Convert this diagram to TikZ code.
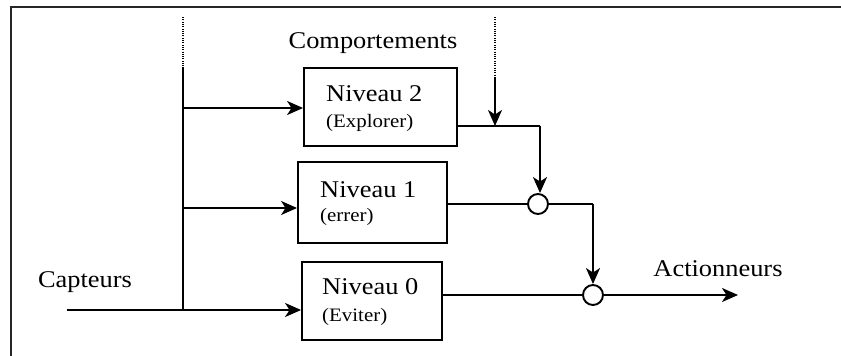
\documentclass[tikz,border=0pt]{standalone}
\usepackage{fontspec}
\setmainfont{Liberation Serif}
\usetikzlibrary{arrows.meta}
\begin{document}
\begin{tikzpicture}[x=1pt,y=-1pt,
  wire/.style={line width=1.9pt},
  dots/.style={line width=1.3pt,dash pattern=on 1pt off 1.3pt},
  arr/.style={wire,-{Stealth[length=16pt,width=14pt,inset=4.5pt]}},
  box/.style={draw,line width=1.9pt,rectangle,inner sep=0pt},
  big/.style={inner sep=0pt,font=\fontsize{24}{28}\selectfont,xscale=1.1,transform shape},
  small/.style={inner sep=0pt,font=\fontsize{19}{22}\selectfont,xscale=1.1,transform shape},
  junc/.style={draw,circle,line width=1.9pt,minimum size=20pt,inner sep=0pt,fill=white}]
\useasboundingbox (0,0) rectangle (841,356);
% open frame: top and left edges
\draw[line width=1.6pt,black!85] (841,7) -- (11,7) -- (11,356);

% behaviour boxes
\node[box,minimum width=153pt,minimum height=78pt] (n2) at (380.5,107) {};
\node[box,minimum width=149pt,minimum height=81pt] (n1) at (372.5,202.5) {};
\node[box,minimum width=140pt,minimum height=78pt] (n0) at (372,301) {};

\node[big,anchor=west] (t2) at (326,94) {Niveau 2};
\node[small,anchor=west] (s2) at (326,123) {(Explorer)};
\node[big,anchor=west] (t1) at (320,190) {Niveau 1};
\node[small,anchor=west] (s1) at (320,217) {(errer)};
\node[big,anchor=west] (t0) at (322,287) {Niveau 0};
\node[small,anchor=west] (s0) at (322,317) {(Eviter)};

% labels
\node[big] (comp) at (373,43) {Comportements};
\node[big] (capt) at (85,282) {Capteurs};
\node[big] (act) at (718,269) {Actionneurs};

% suppression nodes
\node[junc] (c1) at (538,204) {};
\node[junc] (c2) at (593,295) {};

% sensor bus
\coordinate (busTopDot) at (183,17);
\coordinate (busTop) at (183,67);
\coordinate (busBot) at (183,310);
\coordinate (capIn) at (67,310);
\draw[dots] (busTopDot) -- (busTop);
\draw[wire] (busTop) -- (busBot);
\draw[arr] (capIn) -- (n0.west |- capIn);
\draw[arr] (183,108) -- (n2.west |- 0,108);
\draw[arr] (183,208) -- (n1.west |- 0,208);

% level 2 output and its inhibition input
\coordinate (inhDot) at (495,17);
\coordinate (inhTop) at (495,78);
\coordinate (out2) at (540,126);
\draw[dots] (inhDot) -- (inhTop);
\draw[arr] (inhTop) -- (495,126);
\draw[wire] (n2.east |- out2) -- (out2);
\draw[arr] (out2) -- (c1.north -| out2);

% level 1 output
\draw[wire] (n1.east |- c1) -- (c1.west);
\coordinate (out1) at (593,204);
\draw[wire] (c1.east) -- (out1);
\draw[arr] (out1) -- (c2.north);

% level 0 output to the actuators
\coordinate (actOut) at (738,295);
\draw[wire] (n0.east |- c2) -- (c2.west);
\draw[arr] (c2.east) -- (actOut);
\end{tikzpicture}
\end{document}
